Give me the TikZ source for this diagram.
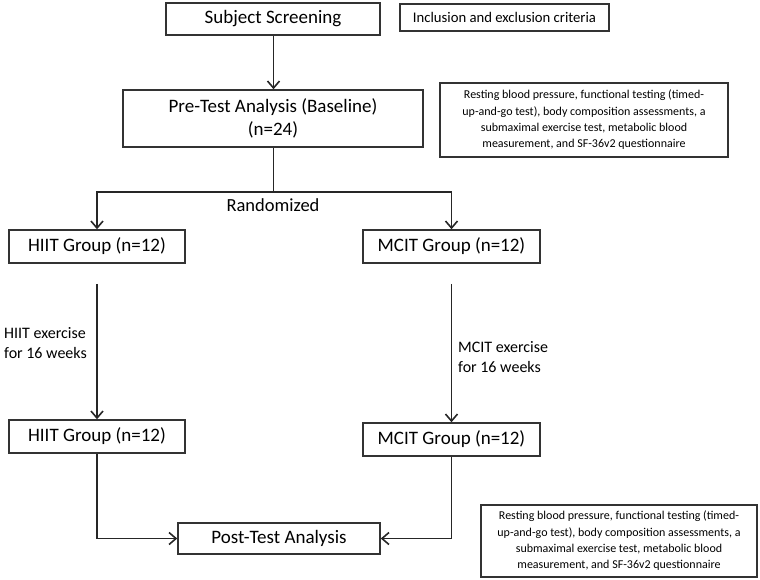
\documentclass[tikz,border=0pt]{standalone}
\usepackage{fontspec}
\setmainfont{Carlito}
\usetikzlibrary{arrows.meta}
\begin{document}
\begin{tikzpicture}[x=1pt,y=-1pt,
  box/.style={draw=black!80,line width=1.5pt,inner sep=0pt,align=center,anchor=center},
  bigtxt/.style={font=\fontsize{19}{23.5}\selectfont},
  restxt/.style={font=\fontsize{12}{16.3}\selectfont},
  arr/.style={line width=1.6pt,draw=black!85,-{Straight Barb[length=7pt,width=12pt]}},
  ln/.style={line width=1.6pt,draw=black!85}]
\useasboundingbox (0,0) rectangle (760,579);
\node[box,bigtxt,minimum width=214pt,minimum height=32pt] (ss) at (273,19) {Subject Screening};
\node[box,font=\fontsize{14.7}{17}\selectfont,minimum width=209pt,minimum height=27pt] (incl) at (504.5,17.5) {Inclusion and exclusion criteria};
\node[box,bigtxt,minimum width=300pt,minimum height=57pt] (pre) at (273,118.5) {Pre-Test Analysis (Baseline)\\(n=24)};
\node[box,restxt,minimum width=288pt,minimum height=74pt] (rest1) at (584,120) {Resting blood pressure, functional testing (timed-\\up-and-go test), body composition assessments, a\\submaximal exercise test, metabolic blood\\measurement, and SF-36v2 questionnaire};
\node[box,bigtxt,minimum width=176pt,minimum height=33pt] (hiit1) at (97,246.5) {HIIT Group (n=12)};
\node[box,bigtxt,minimum width=177pt,minimum height=33pt] (mcit1) at (451.5,246.5) {MCIT Group (n=12)};
\node[box,bigtxt,minimum width=176pt,minimum height=33pt] (hiit2) at (97,436.5) {HIIT Group (n=12)};
\node[box,bigtxt,minimum width=177pt,minimum height=33pt] (mcit2) at (451.5,439.5) {MCIT Group (n=12)};
\node[box,bigtxt,minimum width=202pt,minimum height=31pt] (post) at (279,538.5) {Post-Test Analysis};
\node[box,restxt,minimum width=276pt,minimum height=72pt] (rest2) at (619,541) {Resting blood pressure, functional testing (timed-\\up-and-go test), body composition assessments, a\\submaximal exercise test, metabolic blood\\measurement, and SF-36v2 questionnaire};
\node[font=\fontsize{18.5}{22}\selectfont] (rand) at (273,205) {Randomized};
\node[font=\fontsize{16}{20}\selectfont,align=left,anchor=west,inner sep=0pt] (hlab) at (4,343) {HIIT exercise\\for 16 weeks};
\node[font=\fontsize{16}{20}\selectfont,align=left,anchor=west,inner sep=0pt] (mlab) at (458,357) {MCIT exercise\\for 16 weeks};
\coordinate (a) at (273.5,0);
\coordinate (split) at (273.5,192);
\draw[arr] (a |- ss.south) -- (a |- pre.north);
\draw[ln] (a |- pre.south) -- (split);
\draw[arr] (split) -| (hiit1.north);
\draw[arr] (split) -| (mcit1.north);
\draw[arr] ([yshift=-20pt]hiit1.south) -- (hiit2.north);
\draw[arr] ([yshift=-20pt]mcit1.south) -- (mcit2.north);
\draw[arr] (hiit2.south) |- (post.west);
\draw[arr] (mcit2.south) |- (post.east);
\end{tikzpicture}
\end{document}
